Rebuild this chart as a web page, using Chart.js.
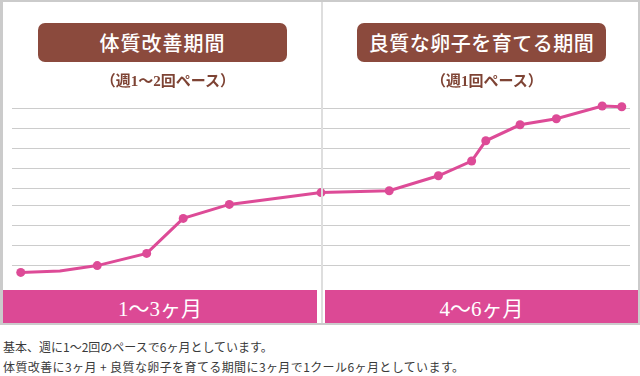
<!DOCTYPE html>
<html lang="ja">
<head>
<meta charset="utf-8">
<script src="https://cdn.jsdelivr.net/npm/chart.js@4/dist/chart.umd.min.js"></script>
<style>
  html, body { margin:0; padding:0; background:#fff; width:640px; height:376px; overflow:hidden; }
  #wrap { position:relative; width:640px; height:376px; }
  #frame { position:absolute; left:0; top:0; width:640px; height:325px; box-sizing:border-box;
           border:2px solid #cbcbcb; border-left-width:3px; }
  #chart { position:absolute; left:0; top:0; }
  #divider { position:absolute; left:321px; top:2px; width:2px; height:321px; background:#dedede; }
  .tbox { position:absolute; top:23px; height:39px; width:249px; border-radius:7px; background:#8b4a3d;
          color:#fff; font-family:"Noto Sans CJK JP", sans-serif; font-weight:500; font-size:20px;
          letter-spacing:1px; display:flex; align-items:center; justify-content:center; }
  .sub { position:absolute; top:71px; height:20px; width:240px; text-align:center; line-height:20px;
         color:#7e4334; font-family:"Liberation Serif","Noto Sans CJK JP", serif; font-weight:bold; font-size:15px; }
  .bar { position:absolute; top:290px; height:33px; background:#dc4995; color:#fff;
         font-family:"Liberation Serif","Noto Sans CJK JP", serif; font-size:21px;
         display:flex; align-items:center; justify-content:center; }
  .note { position:absolute; left:3px; height:20px; line-height:20px; color:#3a3a3a;
          font-family:"Noto Sans CJK JP", sans-serif; font-size:12px; white-space:nowrap; }
</style>
</head>
<body>
<div id="wrap">
  <canvas id="chart" width="640" height="290"></canvas>
  <div id="frame"></div>
  <div id="divider"></div>
</div>
<script>
// ---- data ----
const weeks  = [0.34, 1.86, 3.31, 5.23, 6.65, 8.44, 12.0, 14.65, 16.56, 17.85, 18.40, 19.73, 21.14, 22.92, 23.68];
const levels = [0.63, 0.70, 0.97, 1.58, 3.33, 4.03, 4.62, 4.71, 5.46, 6.20, 7.21, 8.01, 8.31, 8.95, 8.91];
const markerShown = [1, 0, 1, 1, 1, 1, 1, 1, 1, 1, 1, 1, 1, 1, 1];
const gridLevels = [1, 2, 3, 4, 4.84, 5.84, 6.84, 7.84, 8.84];

const phaseTitles    = ["体質改善期間", "良質な卵子を育てる期間"];
const phaseSubtitles = ["（週1～2回ペース）", "（週1回ペース）"];
const phaseLabels    = ["1～3ヶ月", "4～6ヶ月"];
const notes = [
  "基本、週に1～2回のペースで6ヶ月としています。",
  "体質改善に3ヶ月 + 良質な卵子を育てる期間に3ヶ月で1クール6ヶ月としています。"
];

// ---- text elements ----
const wrap = document.getElementById('wrap');
function add(cls, text, style) {
  const d = document.createElement('div');
  d.className = cls; d.textContent = text; Object.assign(d.style, style); wrap.appendChild(d); return d;
}
add('tbox', phaseTitles[0], {left:'38px'});
add('tbox', phaseTitles[1], {left:'357px', letterSpacing:'0.5px'});
add('sub', phaseSubtitles[0], {left:(168-120)+'px'});
add('sub', phaseSubtitles[1], {left:(487-120)+'px'});
add('bar', phaseLabels[0], {left:'3px', width:'314px'});
add('bar', phaseLabels[1], {left:'325px', width:'313px'});
add('note', notes[0], {top:'337px'});
add('note', notes[1], {top:'357px', letterSpacing:'0.4px'});

// ---- chart ----
const lineColor = '#dd4b97';
new Chart(document.getElementById('chart'), {
  type: 'line',
  data: {
    datasets: [{
      data: weeks.map((w, i) => ({x: w, y: levels[i]})),
      borderColor: lineColor,
      backgroundColor: lineColor,
      borderWidth: 3,
      pointRadius: markerShown.map(m => m ? 4.5 : 0),
      pointHoverRadius: markerShown.map(m => m ? 4.5 : 0),
      pointBackgroundColor: lineColor,
      pointBorderWidth: 0,
      tension: 0,
      fill: false
    }]
  },
  options: {
    responsive: false,
    animation: false,
    devicePixelRatio: 1,
    layout: { padding: { left: 12, right: 10, top: 85, bottom: 5 } },
    plugins: { legend: { display: false }, tooltip: { enabled: false }, title: { display: false } },
    scales: {
      x: { type: 'linear', min: 0, max: 24, display: false },
      y: {
        type: 'linear', min: 0, max: 10,
        afterBuildTicks: (s) => { s.ticks = gridLevels.map(v => ({ value: v })); },
        ticks: { display: false },
        grid: { color: '#cccccc', lineWidth: 1, drawTicks: false },
        border: { display: false }
      }
    }
  }
});
</script>
</body>
</html>
